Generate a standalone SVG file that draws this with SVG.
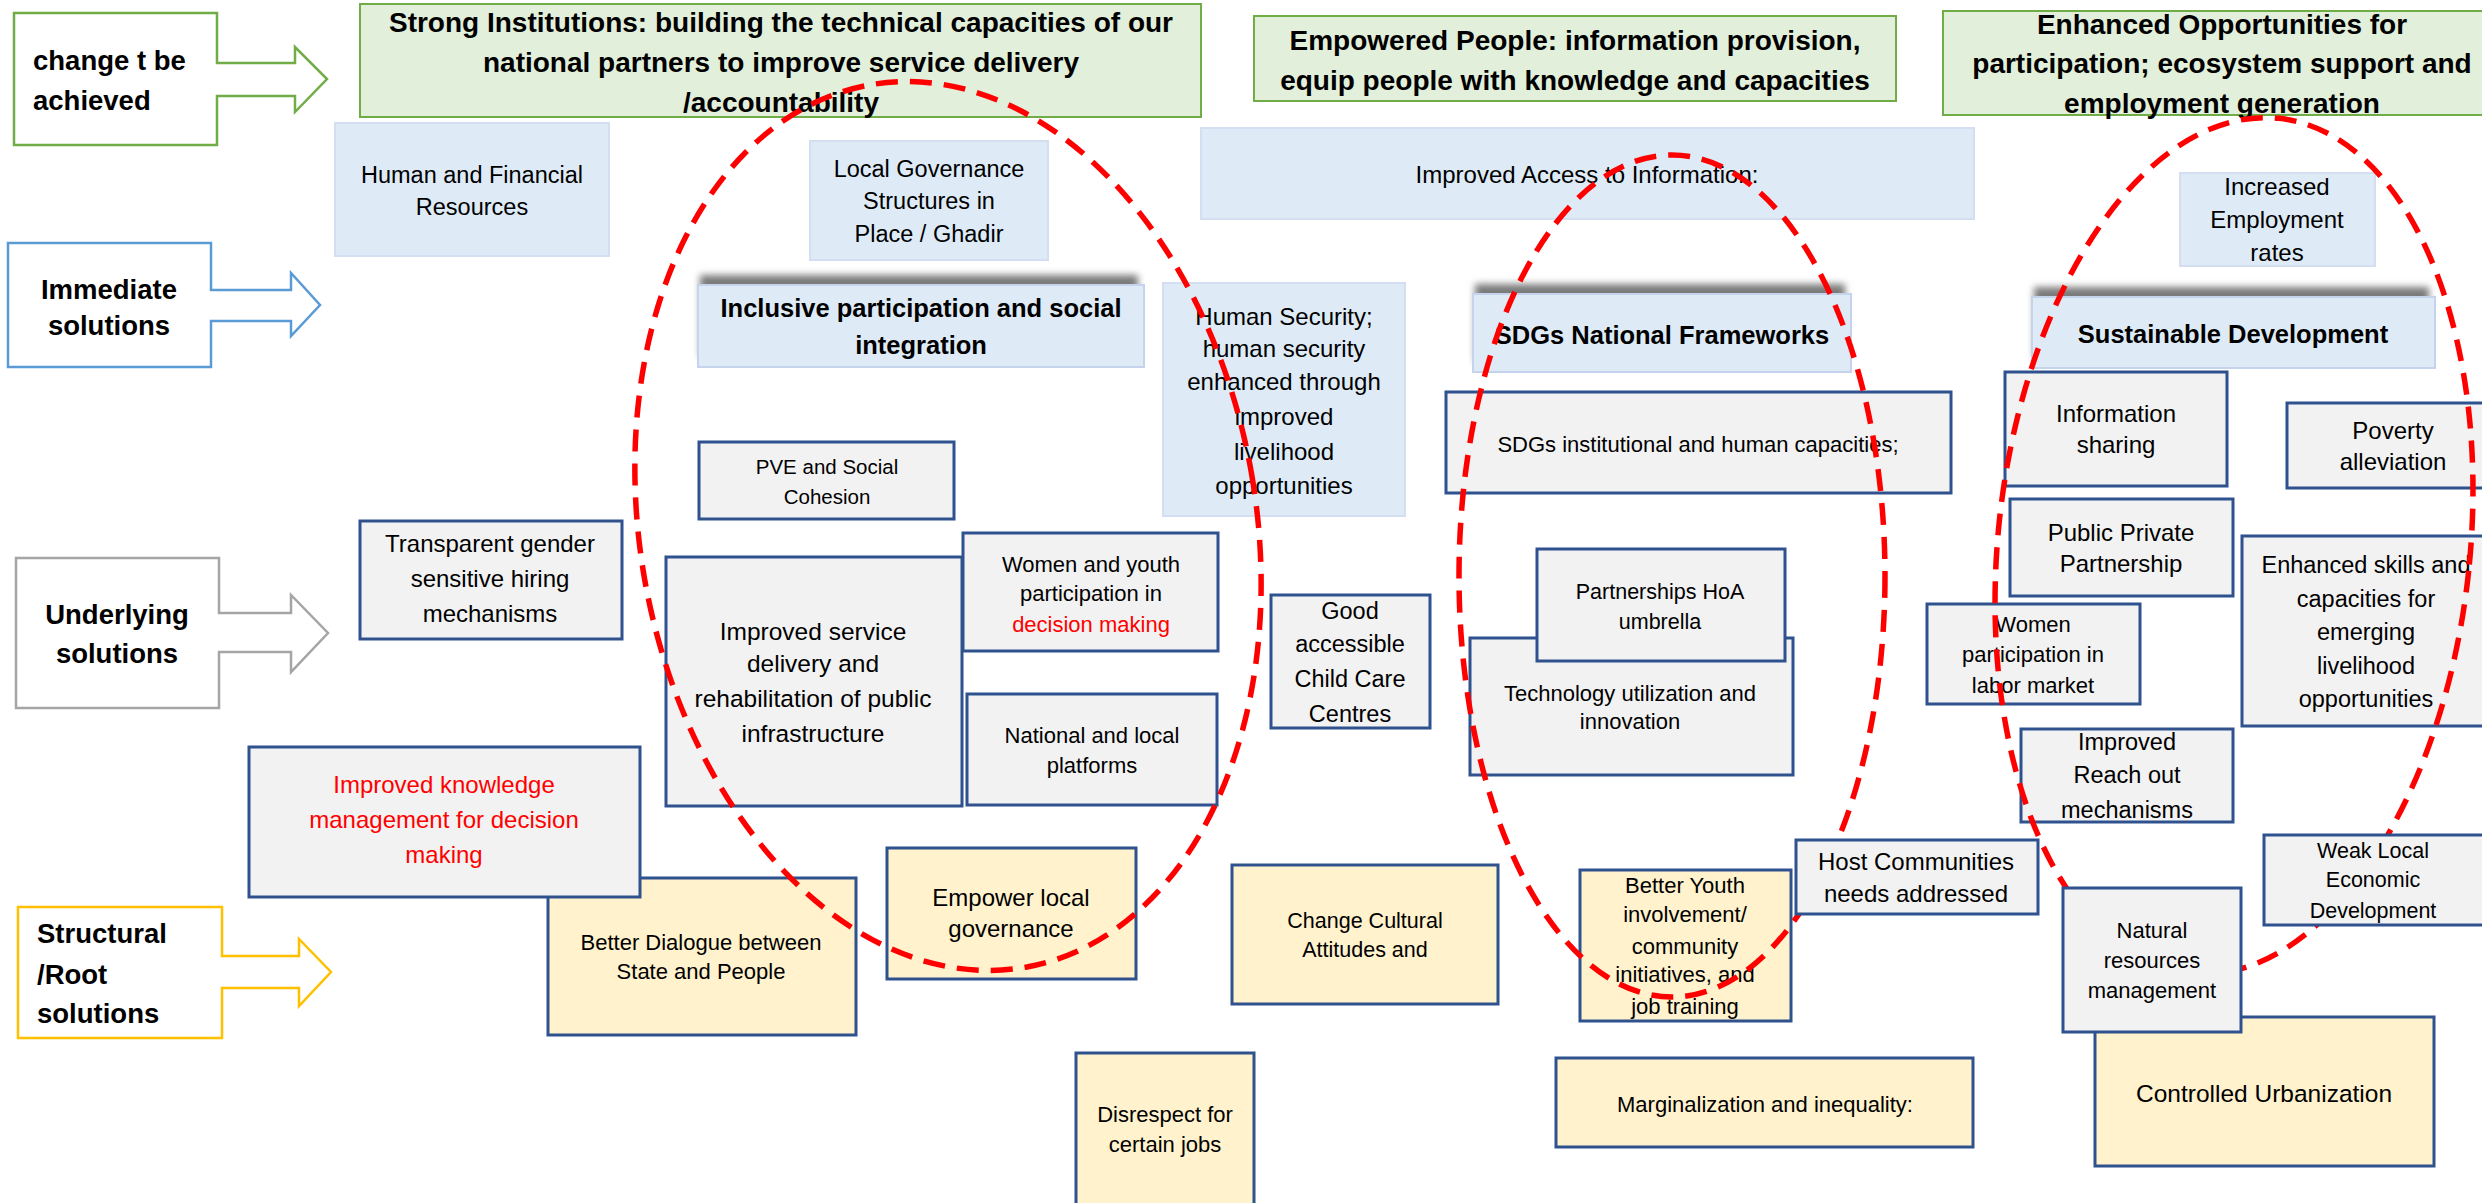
<svg xmlns="http://www.w3.org/2000/svg" width="2482" height="1203" viewBox="0 0 2482 1203">
<defs>
<style>
text{font-family:"Liberation Sans",Arial,sans-serif;fill:#000;text-anchor:middle}
.g{fill:#E2EFDA;stroke:#70AD47;stroke-width:2}
.b{fill:#DEEBF7;stroke:#D3DFF0;stroke-width:2}
.h{fill:#DEEBF7;stroke:#C5D4EC;stroke-width:2}
.n{fill:#F2F2F2;stroke:#2F528F;stroke-width:3}
.y{fill:#FFF2CC;stroke:#2F528F;stroke-width:3}
.co{fill:#fff;stroke-width:2.5}
.sh{fill:#7a7a7a}
.t{font-size:28px;font-weight:bold}
.hd{font-size:25.5px;font-weight:bold}
.lab{font-size:27.5px;font-weight:bold}
.st{text-anchor:start}
.r{fill:#FF0000}
.s20{font-size:20.5px}.s21{font-size:21.5px}.s22{font-size:22px}.s23{font-size:23.5px}.s24{font-size:24px}.s25{font-size:24.5px}
.el{fill:none;stroke:#FF0000;stroke-width:5.5;stroke-dasharray:22 12}
</style>
<filter id="blur" x="-10%" y="-30%" width="120%" height="160%"><feGaussianBlur stdDeviation="3.5"/></filter>
</defs>
<rect width="2482" height="1203" fill="#fff"/>

<g id="row-labels">
<g id="lbl-change"><path class="co" stroke="#70AD47" d="M14,13 H217 V63 H295 V47 L327,79 L295,112 V96 H217 V145 H14 Z"/>
<text class="lab st"><tspan x="33" y="70">change t be</tspan><tspan x="33" y="110">achieved</tspan></text></g>
<g id="lbl-immediate"><path class="co" stroke="#5B9BD5" d="M8,243 H211 V290 H291 V273 L320,305 L291,336 V321 H211 V367 H8 Z"/>
<text class="lab"><tspan x="109" y="299">Immediate</tspan><tspan x="109" y="335">solutions</tspan></text></g>
<g id="lbl-underlying"><path class="co" stroke="#A5A5A5" d="M16,558 H219 V613 H291 V595 L328,633 L291,672 V652 H219 V708 H16 Z"/>
<text class="lab"><tspan x="117" y="624">Underlying</tspan><tspan x="117" y="663">solutions</tspan></text></g>
<g id="lbl-structural"><path class="co" stroke="#FFC000" d="M18,907 H222 V956 H299 V939 L331,972 L299,1006 V988 H222 V1038 H18 Z"/>
<text class="lab st"><tspan x="37" y="943">Structural</tspan><tspan x="37" y="984">/Root</tspan><tspan x="37" y="1023">solutions</tspan></text></g>
</g>

<g id="goal-strong"><rect class="g" x="360" y="4" width="841" height="113"/>
<text class="t"><tspan x="781" y="32">Strong Institutions: building the technical capacities of our</tspan><tspan x="781" y="72">national partners to improve service delivery</tspan><tspan x="781" y="112">/accountability</tspan></text></g>
<g id="goal-empowered"><rect class="g" x="1254" y="16" width="642" height="85"/>
<text class="t"><tspan x="1575" y="50">Empowered People: information provision,</tspan><tspan x="1575" y="90">equip people with knowledge and capacities</tspan></text></g>
<g id="goal-enhanced"><rect class="g" x="1943" y="11" width="547" height="104"/>
<text class="t"><tspan x="2222" y="34">Enhanced Opportunities for</tspan><tspan x="2222" y="73">participation; ecosystem support and</tspan><tspan x="2222" y="113">employment generation</tspan></text></g>

<g id="n-human-financial"><rect class="b" x="335" y="123" width="274" height="133"/>
<text class="s23"><tspan x="472" y="183">Human and Financial</tspan><tspan x="472" y="215">Resources</tspan></text></g>
<g id="n-local-gov"><rect class="b" x="810" y="141" width="238" height="119"/>
<text class="s23"><tspan x="929" y="177">Local Governance</tspan><tspan x="929" y="209">Structures in</tspan><tspan x="929" y="242">Place / Ghadir</tspan></text></g>
<g id="n-access-info"><rect class="b" x="1201" y="128" width="773" height="91"/>
<text class="s24" x="1587" y="183">Improved Access to Information:</text></g>
<g id="n-employment"><rect class="b" x="2180" y="173" width="195" height="93"/>
<text class="s24"><tspan x="2277" y="195">Increased</tspan><tspan x="2277" y="228">Employment</tspan><tspan x="2277" y="261">rates</tspan></text></g>
<g id="n-human-security"><rect class="b" x="1163" y="283" width="242" height="233"/>
<text class="s24"><tspan x="1284" y="325">Human Security;</tspan><tspan x="1284" y="357">human security</tspan><tspan x="1284" y="390">enhanced through</tspan><tspan x="1284" y="425">improved</tspan><tspan x="1284" y="460">livelihood</tspan><tspan x="1284" y="494">opportunities</tspan></text></g>

<g id="h-inclusive"><rect class="sh" x="700" y="275" width="438" height="82" filter="url(#blur)"/><rect class="h" x="698" y="285" width="446" height="82"/>
<text class="hd"><tspan x="921" y="317">Inclusive participation and social</tspan><tspan x="921" y="354">integration</tspan></text></g>
<g id="h-sdgs"><rect class="sh" x="1475" y="284" width="370" height="78" filter="url(#blur)"/><rect class="h" x="1473" y="294" width="378" height="78"/>
<text class="hd" x="1662" y="344">SDGs National Frameworks</text></g>
<g id="h-sustainable"><rect class="sh" x="2034" y="287" width="395" height="71" filter="url(#blur)"/><rect class="h" x="2032" y="297" width="403" height="71"/>
<text class="hd" x="2233" y="343">Sustainable Development</text></g>

<g id="n-pve"><rect class="n" x="699" y="442" width="255" height="77"/>
<text class="s20"><tspan x="827" y="474">PVE and Social</tspan><tspan x="827" y="504">Cohesion</tspan></text></g>
<g id="n-sdgs-capacities"><rect class="n" x="1446" y="392" width="505" height="101"/>
<text class="s22" x="1698" y="452">SDGs institutional and human capacities;</text></g>
<g id="n-info-sharing"><rect class="n" x="2005" y="372" width="222" height="114"/>
<text class="s24"><tspan x="2116" y="422">Information</tspan><tspan x="2116" y="453">sharing</tspan></text></g>
<g id="n-poverty"><rect class="n" x="2287" y="403" width="203" height="85"/>
<text class="s24"><tspan x="2393" y="439">Poverty</tspan><tspan x="2393" y="470">alleviation</tspan></text></g>
<g id="n-transparent"><rect class="n" x="360" y="521" width="262" height="118"/>
<text class="s24"><tspan x="490" y="552">Transparent gender</tspan><tspan x="490" y="587">sensitive hiring</tspan><tspan x="490" y="622">mechanisms</tspan></text></g>
<g id="n-service"><rect class="n" x="666" y="557" width="296" height="249"/>
<text class="s25"><tspan x="813" y="640">Improved service</tspan><tspan x="813" y="672">delivery and</tspan><tspan x="813" y="707">rehabilitation of public</tspan><tspan x="813" y="742">infrastructure</tspan></text></g>
<g id="n-women-youth"><rect class="n" x="963" y="533" width="255" height="118"/>
<text class="s22"><tspan x="1091" y="572">Women and youth</tspan><tspan x="1091" y="601">participation in</tspan><tspan x="1091" y="632" class="r">decision making</tspan></text></g>
<g id="n-platforms"><rect class="n" x="967" y="694" width="250" height="111"/>
<text class="s22"><tspan x="1092" y="743">National and local</tspan><tspan x="1092" y="773">platforms</tspan></text></g>
<g id="n-childcare"><rect class="n" x="1271" y="595" width="159" height="133"/>
<text class="s23"><tspan x="1350" y="619">Good</tspan><tspan x="1350" y="652">accessible</tspan><tspan x="1350" y="687">Child Care</tspan><tspan x="1350" y="722">Centres</tspan></text></g>
<g id="n-technology"><rect class="n" x="1470" y="638" width="323" height="137"/>
<text class="s22"><tspan x="1630" y="701">Technology utilization and</tspan><tspan x="1630" y="729">innovation</tspan></text></g>
<g id="n-partnerships"><rect class="n" x="1537" y="549" width="248" height="112"/>
<text class="s21"><tspan x="1660" y="599">Partnerships HoA</tspan><tspan x="1660" y="629">umbrella</tspan></text></g>
<g id="n-ppp"><rect class="n" x="2010" y="499" width="223" height="97"/>
<text class="s24"><tspan x="2121" y="541">Public Private</tspan><tspan x="2121" y="572">Partnership</tspan></text></g>
<g id="n-skills"><rect class="n" x="2242" y="536" width="248" height="190"/>
<text class="s23"><tspan x="2366" y="573">Enhanced skills and</tspan><tspan x="2366" y="607">capacities for</tspan><tspan x="2366" y="640">emerging</tspan><tspan x="2366" y="674">livelihood</tspan><tspan x="2366" y="707">opportunities</tspan></text></g>
<g id="n-women-labor"><rect class="n" x="1927" y="604" width="213" height="100"/>
<text class="s22"><tspan x="2033" y="632">Women</tspan><tspan x="2033" y="662">participation in</tspan><tspan x="2033" y="693">labor market</tspan></text></g>
<g id="n-reach-out"><rect class="n" x="2021" y="729" width="212" height="93"/>
<text class="s23"><tspan x="2127" y="750">Improved</tspan><tspan x="2127" y="783">Reach out</tspan><tspan x="2127" y="818">mechanisms</tspan></text></g>

<g id="n-dialogue"><rect class="y" x="548" y="878" width="308" height="157"/>
<text class="s22"><tspan x="701" y="950">Better Dialogue between</tspan><tspan x="701" y="979">State and People</tspan></text></g>
<g id="n-knowledge"><rect class="n" x="249" y="747" width="391" height="150"/>
<text class="s24 r"><tspan x="444" y="793">Improved knowledge</tspan><tspan x="444" y="828">management for decision</tspan><tspan x="444" y="863">making</tspan></text></g>
<g id="n-empower"><rect class="y" x="887" y="848" width="249" height="131"/>
<text class="s24"><tspan x="1011" y="906">Empower local</tspan><tspan x="1011" y="937">governance</tspan></text></g>
<g id="n-cultural"><rect class="y" x="1232" y="865" width="266" height="139"/>
<text class="s21"><tspan x="1365" y="928">Change Cultural</tspan><tspan x="1365" y="957">Attitudes and</tspan></text></g>
<g id="n-youth"><rect class="y" x="1580" y="870" width="211" height="151"/>
<text class="s22"><tspan x="1685" y="893">Better Youth</tspan><tspan x="1685" y="922">involvement/</tspan><tspan x="1685" y="954">community</tspan><tspan x="1685" y="982">initiatives, and</tspan><tspan x="1685" y="1014">job training</tspan></text></g>
<g id="n-disrespect"><rect class="y" x="1076" y="1053" width="178" height="160"/>
<text class="s22"><tspan x="1165" y="1122">Disrespect for</tspan><tspan x="1165" y="1152">certain jobs</tspan></text></g>
<g id="n-marginalization"><rect class="y" x="1556" y="1058" width="417" height="89"/>
<text class="s22" x="1765" y="1112">Marginalization and inequality:</text></g>
<g id="n-urbanization"><rect class="y" x="2095" y="1017" width="339" height="149"/>
<text class="s25" x="2264" y="1102">Controlled Urbanization</text></g>

<g id="connectors">
<ellipse class="el" cx="948" cy="526" rx="308" ry="448" transform="rotate(-10 948 526)"/>
<ellipse class="el" cx="1672" cy="576" rx="213" ry="421"/>
<ellipse class="el" cx="2234" cy="546" rx="236" ry="430" transform="rotate(6 2234 546)"/>
</g>

<g id="n-host"><rect class="n" x="1796" y="840" width="242" height="74"/>
<text class="s24"><tspan x="1916" y="870">Host Communities</tspan><tspan x="1916" y="902">needs addressed</tspan></text></g>
<g id="n-natural"><rect class="n" x="2063" y="888" width="178" height="144"/>
<text class="s22"><tspan x="2152" y="938">Natural</tspan><tspan x="2152" y="968">resources</tspan><tspan x="2152" y="998">management</tspan></text></g>
<g id="n-weak-led"><rect class="n" x="2264" y="835" width="226" height="90"/>
<text class="s21"><tspan x="2373" y="858">Weak Local</tspan><tspan x="2373" y="887">Economic</tspan><tspan x="2373" y="918">Development</tspan></text></g>
</svg>
